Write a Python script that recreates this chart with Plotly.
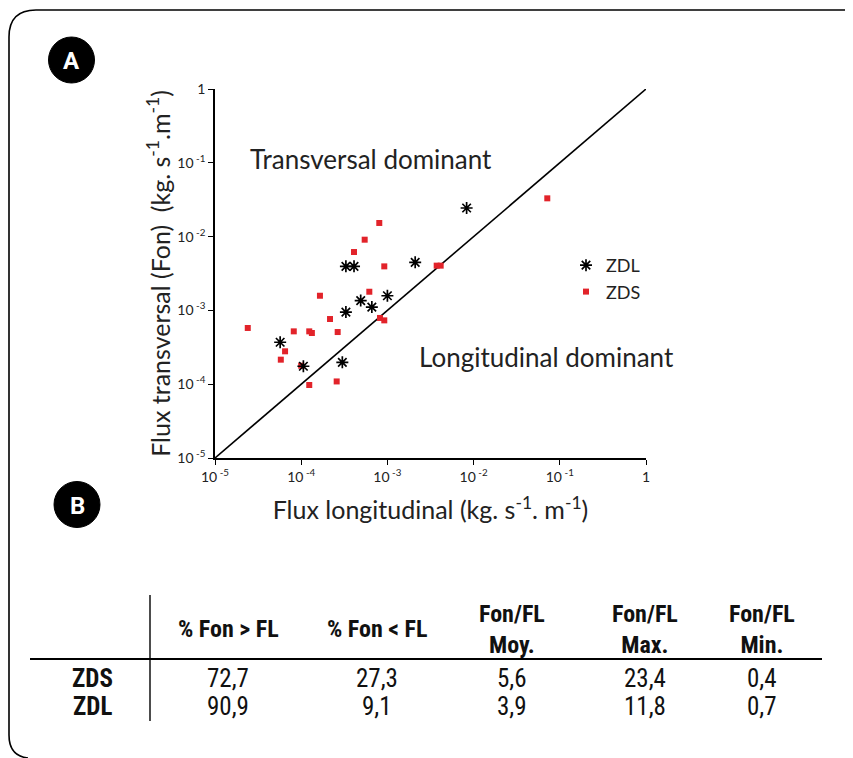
import plotly.graph_objects as go

# ---------------- data (log-scale fluxes, kg s-1 m-1) ----------------
zdl_fl  = [5.7e-5, 1.06e-4, 3.0e-4, 3.3e-4, 4.9e-4, 6.6e-4, 1.0e-3, 3.3e-4, 4.1e-4, 2.1e-3, 8.3e-3]
zdl_fon = [3.7e-4, 1.75e-4, 1.98e-4, 9.5e-4, 1.36e-3, 1.11e-3, 1.58e-3, 3.95e-3, 3.95e-3, 4.48e-3, 2.44e-2]

zds_fl  = [2.4e-5, 5.8e-5, 6.5e-5, 8.2e-5, 1.0e-4, 1.24e-4, 1.33e-4, 1.24e-4, 1.65e-4, 2.16e-4,
           2.65e-4, 2.58e-4, 4.1e-4, 5.45e-4, 6.17e-4, 8.05e-4, 8.2e-4, 9.2e-4, 9.2e-4, 3.73e-3,
           4.15e-3, 7.16e-2]
zds_fon = [5.78e-4, 2.15e-4, 2.79e-4, 5.2e-4, 1.78e-4, 5.2e-4, 4.94e-4, 9.75e-5, 1.58e-3, 7.64e-4,
           5.09e-4, 1.09e-4, 6.18e-3, 9.08e-3, 1.79e-3, 1.53e-2, 7.9e-4, 7.33e-4, 3.95e-3, 4.04e-3,
           4.04e-3, 3.3e-2]

tick_vals = [1e-5, 1e-4, 1e-3, 1e-2, 1e-1, 1]
tick_text = ["10<sup> -5</sup>", "10<sup> -4</sup>", "10<sup> -3</sup>",
             "10<sup> -2</sup>", "10<sup> -1</sup>", "1"]

table_cols = ["% Fon > FL", "% Fon < FL", "Fon/FL<br>Moy.", "Fon/FL<br>Max.", "Fon/FL<br>Min."]
table_rows = ["ZDS", "ZDL"]
table_vals = [["72,7", "27,3", "5,6", "23,4", "0,4"],
              ["90,9", "9,1", "3,9", "11,8", "0,7"]]

# ---------------- figure ----------------
# the page body has an 8px margin: the figure starts at page (8, 8)
OFF = 8
W, H = 853 - OFF, 758 - OFF
FONT = "Lato, Open Sans, sans-serif"
TFONT = "Roboto Condensed, Liberation Sans Narrow, DejaVu Sans Condensed, Roboto, sans-serif"
RED = "#e2232a"

def px(x):
    return (x - OFF) / W

def py(y):
    return 1 - (y - OFF) / H

def note(x, y, text, size, family=FONT, color="#222"):
    fig.add_annotation(x=px(x), y=py(y), xref="paper", yref="paper",
                       xanchor="center", yanchor="middle",
                       text=text, showarrow=False,
                       font=dict(size=size, family=family, color=color))

fig = go.Figure()

fig.add_trace(go.Scatter(x=[1e-5, 1], y=[1e-5, 1], mode="lines",
                         line=dict(color="black", width=1.6), showlegend=False,
                         hoverinfo="skip"))
fig.add_trace(go.Scatter(x=zds_fl, y=zds_fon, mode="markers", name="ZDS",
                         legendrank=2,
                         marker=dict(symbol="square", size=6, color=RED)))
fig.add_trace(go.Scatter(x=zdl_fl, y=zdl_fon, mode="markers", name="ZDL",
                         legendrank=1,
                         marker=dict(symbol="asterisk-open", size=10,
                                     color="black", line=dict(color="black", width=1.7))))

axis_common = dict(type="log", range=[-5, 0], tickvals=tick_vals, ticktext=tick_text,
                   showgrid=False, zeroline=False, showline=True, linecolor="black",
                   linewidth=1.6, ticks="outside", ticklen=5, tickcolor="black",
                   tickwidth=1.3, automargin=False,
                   tickfont=dict(family=FONT, size=14, color="#222"))

fig.update_layout(
    width=W, height=H, autosize=False,
    margin=dict(l=0, r=0, t=0, b=0, pad=0, autoexpand=False),
    paper_bgcolor="white", plot_bgcolor="white",
    font=dict(family=FONT, color="#222"),
    xaxis=dict(domain=[px(215), px(646)], anchor="y",
               title=dict(text="Flux longitudinal (kg. s<sup>-1</sup>. m<sup>-1</sup>)",
                          font=dict(size=25, family=FONT, color="#222"), standoff=18),
               **axis_common),
    yaxis=dict(domain=[py(458), py(89)], anchor="x",
               title=dict(text="Flux transversal (Fon)  (kg. s<sup>-1</sup>.m<sup>-1</sup>)",
                          font=dict(size=25, family=FONT, color="#222"), standoff=0),
               **axis_common),
    legend=dict(x=px(566), y=py(247), xanchor="left", yanchor="top",
                font=dict(size=18, family=FONT, color="#222"),
                bgcolor="rgba(0,0,0,0)", itemwidth=30, tracegroupgap=0),
    showlegend=True,
)

# region labels
note(371, 159, "Transversal dominant", 26)
note(546, 357, "Longitudinal dominant", 26)

# frame
fig.add_shape(type="path", xref="paper", yref="paper",
              path=f"M {px(860)},{py(10)} L {px(36)},{py(10)} "
                   f"Q {px(9)},{py(10)} {px(9)},{py(37)} L {px(9)},{py(735)} "
                   f"Q {px(9)},{py(756)} {px(28)},{py(758)}",
              line=dict(color="black", width=1.6))

# panel badges
for lbl, cx, cy in [("A", 71.5, 60), ("B", 77, 504.5)]:
    r = 23
    fig.add_shape(type="circle", xref="paper", yref="paper",
                  x0=px(cx - r), x1=px(cx + r), y0=py(cy + r), y1=py(cy - r),
                  fillcolor="black", line=dict(color="black", width=1))
    note(cx, cy + 1, f"<b>{lbl}</b>", 24, family="Roboto, sans-serif", color="white")

# table
col_x = [228, 377, 512, 645, 762]
for cx, head in zip(col_x, table_cols):
    note(cx, 629, f"<b>{head}</b>", 24, family=TFONT, color="#111")
row_y = [678, 706]
for ry, rlab, vals in zip(row_y, table_rows, table_vals):
    note(92, ry, f"<b>{rlab}</b>", 25, family=TFONT, color="#111")
    for cx, v in zip(col_x, vals):
        note(cx, ry, v, 25, family=TFONT, color="#111")

fig.add_shape(type="line", xref="paper", yref="paper",
              x0=px(30), x1=px(822), y0=py(659), y1=py(659),
              line=dict(color="black", width=2.2))
fig.add_shape(type="line", xref="paper", yref="paper",
              x0=px(150), x1=px(150), y0=py(595), y1=py(721),
              line=dict(color="black", width=1.4))

fig.write_html("out.html")
